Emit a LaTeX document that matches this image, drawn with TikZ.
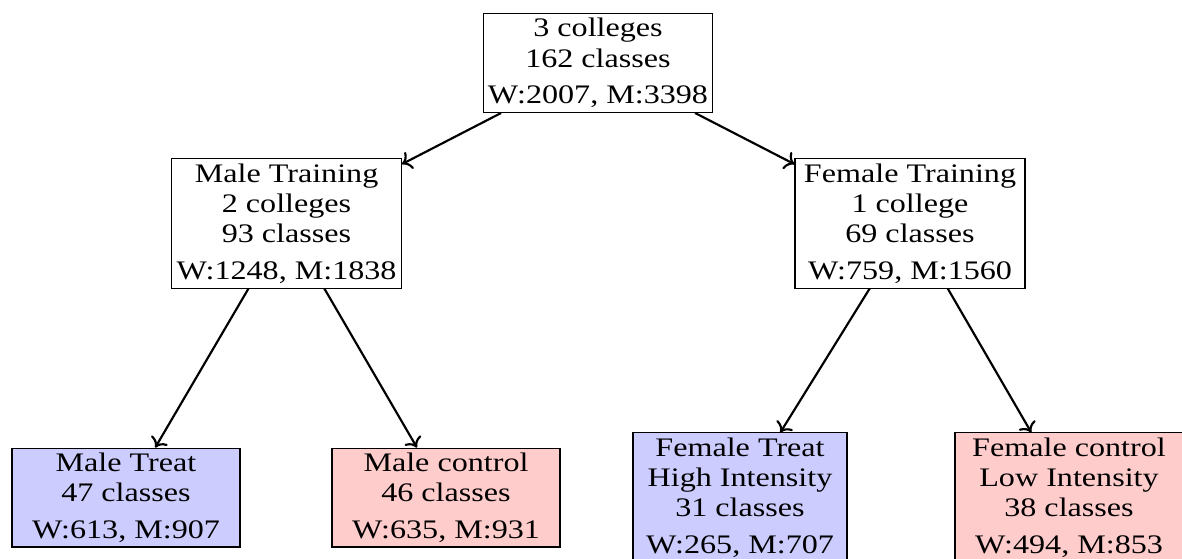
\documentclass[tikz,border=0pt]{standalone}
\usepackage{fontspec}
\setmainfont{Liberation Serif}[FakeStretch=1.2]
\usetikzlibrary{arrows.meta, positioning}

\begin{document}
\begin{tikzpicture}[
    every node/.style={font=\fontsize{9.9pt}{11.2pt}\selectfont},
    box/.style={rectangle, draw, align=center, inner sep=1.8pt},
    groupbox/.style={box, minimum width=2.964cm},
    treatbox/.style={groupbox, fill=blue!20},
    ctrlbox/.style={groupbox, fill=red!20},
    arrow/.style={->, thick}
]
\useasboundingbox (0,0) rectangle (15.366,-7.267);

% ============ ROOT ============
\node[box] (root) at (7.774, -0.819) {3 colleges\\162 classes\\[2.2pt]W:2007, M:3398};

% ============ TRAINING ============
\node[box] (maletrain) at (3.725, -2.906) {Male Training\\2 colleges\\93 classes\\[2.2pt]W:1248, M:1838};
\node[box, minimum width=2.99cm] (femtrain) at (11.83, -2.906) {Female Training\\1 college\\69 classes\\[2.2pt]W:759, M:1560};

% ============ GROUPS ============
\node[treatbox] (maletreat) at (1.638, -6.468) {Male Treat\\47 classes\\[2.2pt]W:613, M:907};
\node[ctrlbox] (malectrl) at (5.798, -6.468) {Male control\\46 classes\\[2.2pt]W:635, M:931};
\node[treatbox, minimum width=2.782cm] (femtreat) at (9.620, -6.468) {Female Treat\\High Intensity\\31 classes\\[2.2pt]W:265, M:707};
\node[ctrlbox] (femctrl) at (13.897, -6.468) {Female control\\Low Intensity\\38 classes\\[2.2pt]W:494, M:853};

% ============ ARROWS ============
\draw[arrow] (root) -- (maletrain);
\draw[arrow] (root) -- (femtrain);
\draw[arrow] (maletrain) -- (maletreat);
\draw[arrow] (maletrain) -- (malectrl);
\draw[arrow] (femtrain) -- (femtreat);
\draw[arrow] (femtrain) -- (femctrl);

\end{tikzpicture}
\end{document}
